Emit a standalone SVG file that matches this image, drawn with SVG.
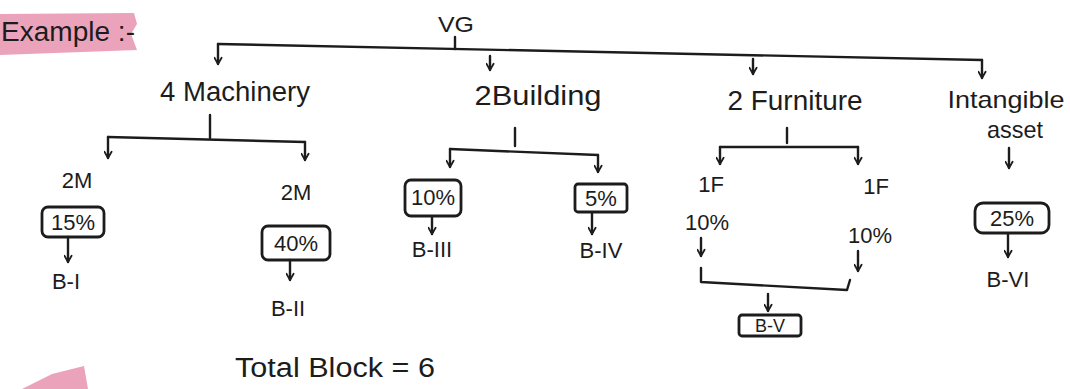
<svg xmlns="http://www.w3.org/2000/svg" width="1070" height="389" viewBox="0 0 1070 389">
<style>
text{font-family:"Liberation Sans","DejaVu Sans",sans-serif;fill:#1c1c1c;text-anchor:middle;font-size:22px}
.big{font-size:27px}
.mid{font-size:24px}
.ln{fill:none;stroke:#1c1c1c;stroke-width:2.4;stroke-linecap:round;stroke-linejoin:round}
.ar{marker-end:url(#ah)}
.box{fill:none;stroke:#1c1c1c;stroke-width:2.8}
.hl{fill:#eba3bb}
</style>
<defs>
<marker id="ah" viewBox="0 0 10 10" refX="9" refY="5" markerWidth="9" markerHeight="9" markerUnits="userSpaceOnUse" orient="auto">
<path d="M2,1 L9,5 L2,9" fill="none" stroke="#1c1c1c" stroke-width="2" stroke-linecap="round" stroke-linejoin="round"/>
</marker>
</defs>
<rect width="1070" height="389" fill="#ffffff"/>

<g id="example">
<polygon class="hl" points="0,14 134,13 137,24 131,34 137,50 0,55"/>
<text class="big" x="68" y="41" textLength="134" lengthAdjust="spacingAndGlyphs">Example :-</text>
</g>

<g id="connectors">
<path class="ln" d="M218,44 L982,60"/>
<path class="ln ar" d="M218,44 L218,64"/>
<path class="ln" d="M455,37 L455,49"/>
<path class="ln ar" d="M490,56 L490,70"/>
<path class="ln ar" d="M753,59 L753,74"/>
<path class="ln ar" d="M982,60 L982,78"/>

<path class="ln" d="M210,115 L210,138"/>
<path class="ln" d="M108,137 L305,142"/>
<path class="ln ar" d="M108,137 L108,158"/>
<path class="ln ar" d="M305,142 L305,160"/>

<path class="ln" d="M515,128 L515,146"/>
<path class="ln" d="M450,149 L598,155"/>
<path class="ln ar" d="M450,149 L450,167"/>
<path class="ln ar" d="M598,155 L598,172"/>

<path class="ln" d="M787,128 L787,143"/>
<path class="ln" d="M720,147 L858,147"/>
<path class="ln ar" d="M720,147 L720,164"/>
<path class="ln ar" d="M858,147 L858,164"/>

<path class="ln ar" d="M1009,148 L1009,168"/>

<path class="ln ar" d="M68,237 L68,262"/>
<path class="ln ar" d="M290,260 L290,280"/>
<path class="ln ar" d="M432,217 L432,234"/>
<path class="ln ar" d="M592,213 L592,234"/>
<path class="ln ar" d="M1008,234 L1008,257"/>

<path class="ln ar" d="M701,238 L701,256"/>
<path class="ln ar" d="M858,251 L858,271"/>
<path class="ln" d="M701,268 L701,282 L847,290 L850,280"/>
<path class="ln ar" d="M768,294 L768,311"/>
</g>

<g id="vg"><text x="456" y="32" textLength="36" lengthAdjust="spacingAndGlyphs">VG</text></g>

<g id="machinery"><text class="big" x="235" y="101" textLength="150" lengthAdjust="spacingAndGlyphs">4 Machinery</text></g>
<g id="building"><text class="big" x="538" y="105" textLength="127" lengthAdjust="spacingAndGlyphs">2Building</text></g>
<g id="furniture"><text class="big" x="795" y="110" textLength="135" lengthAdjust="spacingAndGlyphs">2 Furniture</text></g>
<g id="intangible">
<text class="mid" x="1006" y="108" textLength="117" lengthAdjust="spacingAndGlyphs">Intangible</text>
<text class="mid" x="1015" y="138" textLength="56" lengthAdjust="spacingAndGlyphs">asset</text>
</g>

<g id="m1">
<text x="77" y="188">2M</text>
<rect class="box" x="42" y="207" width="62" height="30" rx="6"/>
<text x="73" y="230">15%</text>
<text x="66" y="289">B-I</text>
</g>
<g id="m2">
<text x="296" y="200">2M</text>
<rect class="box" x="262" y="226" width="68" height="34" rx="6"/>
<text x="296" y="251">40%</text>
<text x="288" y="316">B-II</text>
</g>

<g id="b1">
<rect class="box" x="405" y="180" width="56" height="36" rx="6"/>
<text x="433" y="205">10%</text>
<text x="432" y="257">B-III</text>
</g>
<g id="b2">
<rect class="box" x="575" y="184" width="52" height="28" rx="3"/>
<text x="601" y="206">5%</text>
<text x="601" y="258">B-IV</text>
</g>

<g id="f1">
<text x="711" y="192">1F</text>
<text x="707" y="230">10%</text>
</g>
<g id="f2">
<text x="876" y="194">1F</text>
<text x="870" y="243">10%</text>
</g>
<g id="bv">
<rect class="box" x="739" y="315" width="62" height="21" rx="3"/>
<text x="770" y="332" style="font-size:18px">B-V</text>
</g>

<g id="i1">
<rect class="box" x="975" y="203" width="74" height="30" rx="8"/>
<text x="1012" y="226">25%</text>
<text x="1008" y="287">B-VI</text>
</g>

<g id="total"><text class="big" x="335" y="377" textLength="200" lengthAdjust="spacingAndGlyphs">Total Block = 6</text></g>

<polygon class="hl" points="22,389 52,374 84,366 88,389"/>
</svg>
